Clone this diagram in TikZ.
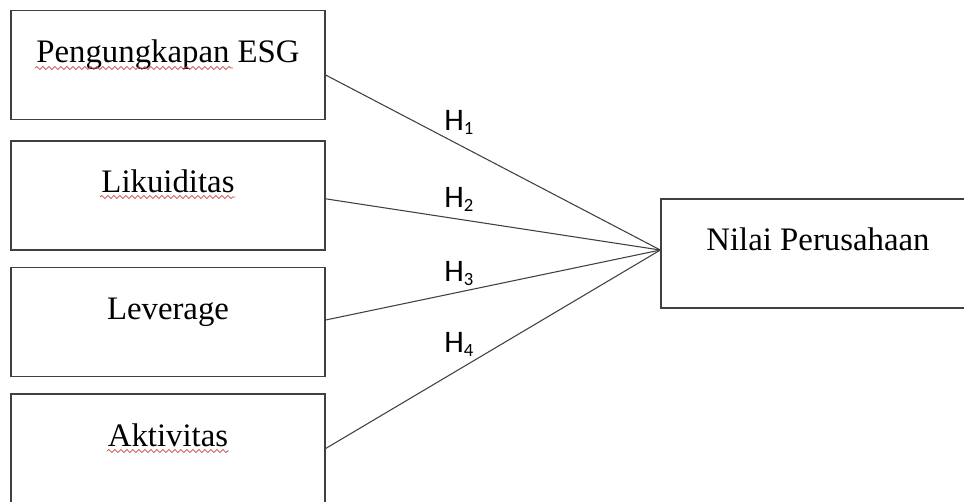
\documentclass[tikz,border=0pt]{standalone}
\usepackage{fontspec}
\setmainfont{Liberation Serif}
\newfontfamily\hfont{Carlito}
\usepackage{tikz}
\usetikzlibrary{positioning, decorations.pathmorphing}
\definecolor{line_grey}{RGB}{64, 64, 64}
\definecolor{spell_red}{RGB}{205, 70, 70}
\newcommand{\hyp}[1]{H\raisebox{-2.5pt}{\fontsize{14}{14}\selectfont #1}}

\begin{document}
\begin{tikzpicture}[x=0.75pt, y=-0.75pt,
      box/.style ={draw=line_grey, line width=1pt, inner sep=0pt, minimum width=235.5pt,
                   text height=39pt, text depth=42.75pt, font=\fontsize{24.6}{29}\selectfont},
      hyp/.style ={inner sep=0pt, anchor=base west, font=\hfont\fontsize{23.5}{27}\selectfont},
      link/.style={draw=line_grey, line width=0.8pt},
      wavy/.style={spell_red, line width=0.6pt, decorate,
                   decoration={snake, segment length=4.5pt, amplitude=1.1pt}}]
    \clip (0,0) rectangle (964,502);
    % --- LEFT: the four independent variables ---
    \node[box] (esg) at (168,65)    {Pengungkapan ESG};
    \node[box] (lik) at (168,195.5) {Likuiditas};
    \node[box] (lev) at (168,322)   {Leverage};
    \node[box] (akt) at (168,448.5) {Aktivitas};
    % --- RIGHT: the dependent variable ---
    \node[box] (nilai) at (818,253.5) {Nilai Perusahaan};
    \coordinate (hub) at ([yshift=2.6pt]nilai.west);
    % --- hypotheses ---
    \draw[link] ([yshift=-7.5pt]esg.east) -- (hub);
    \draw[link] ([yshift=-2.5pt]lik.east) -- (hub);
    \draw[link] ([yshift=1.5pt]lev.east) -- (hub);
    \draw[link] (akt.east) -- (hub);
    \node[hyp] (h1) at (444,131) {\hyp{1}};
    \node[hyp] (h2) at (444,208) {\hyp{2}};
    \node[hyp] (h3) at (444,282) {\hyp{3}};
    \node[hyp] (h4) at (444,353) {\hyp{4}};
    % --- spell-check marks under the words ---
    \draw[wavy] (35,68) -- (233,68);
    \draw[wavy] (100,197) -- (235,197);
    \draw[wavy] (107,451) -- (229,451);
  \end{tikzpicture}
\end{document}
